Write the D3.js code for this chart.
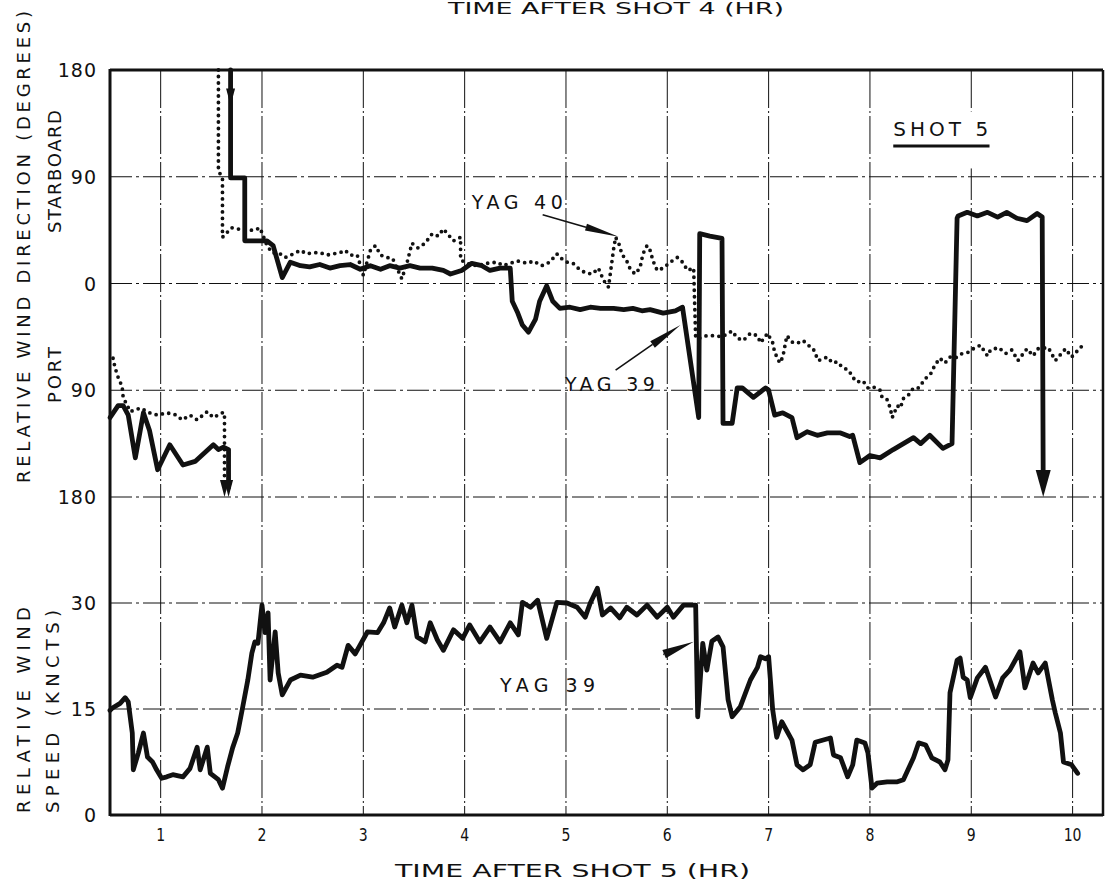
<!DOCTYPE html>
<html><head><meta charset="utf-8">
<script src="https://cdn.jsdelivr.net/npm/d3@7"></script>
<style>body{margin:0;background:#fff}svg{display:block}</style>
</head><body>
<svg id="c" width="1106" height="890"></svg>
<script>
// ---------- DATA ----------
const hourTicks = [1,2,3,4,5,6,7,8,9,10];
const hourTickLabels = ["1","2","3","4","5","6","7","8","9","10"];
const dirTicks = [180,90,0,-90,-180];
const dirTickLabels = ["180","90","0","90","180"];
const speedTicks = [30,15,0];
const speedTickLabels = ["30","15","0"];

// YAG 39 relative wind direction (solid); + = starboard, - = port
const yag39DirPort = [[0.50,-113],[0.58,-103],[0.63,-103],[0.68,-111],[0.75,-147],[0.83,-109],[0.89,-124],[0.97,-157],[1.09,-136],[1.22,-153],[1.34,-150],[1.52,-136],[1.57,-140],[1.62,-138],[1.67,-140],[1.67,-172]];
const yag39Dir = [[1.69,180],[1.69,89],[1.83,89],[1.83,36],[2.05,36],[2.11,32],[2.20,5],[2.28,18],[2.38,15],[2.47,14],[2.57,16],[2.67,13],[2.77,15],[2.87,16],[2.97,12],[3.07,15],[3.17,12],[3.26,15],[3.36,13],[3.46,15],[3.56,13],[3.68,13],[3.79,11],[3.86,8],[3.97,11],[4.07,17],[4.17,15],[4.25,11],[4.35,13],[4.45,13],[4.47,-15],[4.52,-24],[4.57,-35],[4.63,-41],[4.70,-30],[4.74,-15],[4.81,-2],[4.87,-15],[4.94,-21],[5.04,-20],[5.14,-22],[5.24,-20],[5.34,-21],[5.47,-21],[5.57,-22],[5.66,-21],[5.75,-23],[5.83,-22],[5.96,-25],[6.08,-23],[6.15,-20],[6.31,-113],[6.32,42],[6.42,40],[6.54,38],[6.55,-118],[6.64,-118],[6.69,-88],[6.74,-88],[6.85,-96],[6.97,-88],[7.00,-90],[7.06,-111],[7.14,-109],[7.23,-113],[7.28,-130],[7.38,-125],[7.48,-128],[7.58,-126],[7.71,-126],[7.80,-129],[7.83,-128],[7.90,-151],[8.00,-145],[8.10,-147],[8.23,-140],[8.33,-135],[8.43,-130],[8.50,-135],[8.59,-128],[8.72,-139],[8.81,-135],[8.86,55],[8.87,57],[8.96,60],[9.06,57],[9.16,60],[9.26,56],[9.35,60],[9.45,55],[9.55,53],[9.65,59],[9.70,56],[9.71,-170]];

// YAG 40 relative wind direction (dotted)
const yag40DirPort = [[0.53,-63],[0.55,-71],[0.58,-79],[0.62,-87],[0.63,-96],[0.70,-108],[0.80,-105],[0.89,-109],[0.97,-111],[1.06,-109],[1.16,-111],[1.21,-115],[1.29,-111],[1.36,-115],[1.46,-108],[1.52,-113],[1.61,-109],[1.63,-109],[1.63,-172]];
const yag40Dir = [[1.57,180],[1.57,95],[1.61,89],[1.61,39],[1.70,47],[1.76,46],[1.85,45],[1.93,45],[1.98,47],[2.05,32],[2.10,26],[2.18,25],[2.23,22],[2.31,25],[2.38,28],[2.44,25],[2.50,26],[2.57,26],[2.64,24],[2.70,25],[2.77,26],[2.82,28],[2.87,24],[2.94,24],[3.00,7],[3.07,28],[3.12,32],[3.17,24],[3.23,22],[3.29,21],[3.38,4],[3.43,17],[3.48,34],[3.54,30],[3.61,34],[3.68,42],[3.74,40],[3.79,46],[3.86,39],[3.89,36],[3.96,39],[3.96,20],[4.02,17],[4.12,15],[4.22,17],[4.32,18],[4.38,15],[4.52,19],[4.62,17],[4.68,19],[4.76,15],[4.84,18],[4.91,25],[4.94,22],[5.01,18],[5.07,17],[5.12,13],[5.19,9],[5.26,8],[5.32,13],[5.36,5],[5.39,0],[5.42,-3],[5.47,29],[5.49,39],[5.53,32],[5.55,25],[5.60,19],[5.63,13],[5.68,8],[5.73,13],[5.76,25],[5.80,32],[5.83,28],[5.86,19],[5.90,11],[5.96,13],[6.03,18],[6.10,22],[6.15,18],[6.20,11],[6.26,13],[6.28,-46],[6.32,-46],[6.39,-44],[6.47,-44],[6.54,-45],[6.64,-40],[6.69,-46],[6.75,-48],[6.82,-42],[6.89,-44],[6.92,-50],[6.99,-42],[7.04,-50],[7.06,-58],[7.11,-67],[7.14,-62],[7.18,-44],[7.24,-50],[7.29,-50],[7.34,-48],[7.39,-52],[7.44,-55],[7.49,-65],[7.58,-62],[7.63,-67],[7.68,-66],[7.73,-71],[7.79,-73],[7.83,-79],[7.87,-83],[7.93,-82],[7.98,-88],[8.03,-87],[8.10,-90],[8.12,-96],[8.17,-98],[8.20,-105],[8.22,-113],[8.27,-103],[8.30,-105],[8.33,-97],[8.38,-94],[8.43,-88],[8.48,-88],[8.55,-80],[8.60,-76],[8.64,-69],[8.69,-63],[8.74,-67],[8.79,-62],[8.84,-63],[8.91,-59],[8.97,-58],[9.02,-55],[9.09,-52],[9.16,-61],[9.19,-56],[9.27,-54],[9.34,-59],[9.40,-56],[9.46,-65],[9.55,-55],[9.61,-61],[9.66,-55],[9.76,-54],[9.83,-65],[9.93,-55],[9.99,-62],[10.10,-52]];

// YAG 39 relative wind speed (knots)
const yag39Speed = [[0.50,14.8],[0.52,15.1],[0.60,15.8],[0.65,16.6],[0.68,16.0],[0.72,11.6],[0.73,6.4],[0.78,8.8],[0.83,11.6],[0.87,8.2],[0.92,7.5],[0.96,6.4],[1.01,5.2],[1.06,5.4],[1.12,5.7],[1.22,5.4],[1.29,6.6],[1.36,9.6],[1.39,6.4],[1.46,9.6],[1.49,5.9],[1.57,5.0],[1.61,3.8],[1.66,6.8],[1.71,9.5],[1.76,11.6],[1.81,15.3],[1.86,19.1],[1.90,22.9],[1.93,24.5],[1.96,24.3],[2.00,29.7],[2.03,25.8],[2.06,28.6],[2.08,19.1],[2.13,25.9],[2.16,20.1],[2.20,17.0],[2.28,19.1],[2.38,19.8],[2.50,19.5],[2.64,20.2],[2.74,21.2],[2.79,20.9],[2.85,24.0],[2.92,22.8],[3.04,25.9],[3.14,25.8],[3.20,27.2],[3.26,29.3],[3.31,26.6],[3.38,29.7],[3.43,27.2],[3.48,29.7],[3.53,25.2],[3.61,24.5],[3.66,27.2],[3.73,24.8],[3.79,23.3],[3.89,26.2],[3.98,25.0],[4.05,26.9],[4.15,24.5],[4.25,26.6],[4.35,24.5],[4.45,27.2],[4.53,25.5],[4.57,30.1],[4.65,29.4],[4.72,30.4],[4.81,25.0],[4.91,30.1],[5.01,30.0],[5.11,29.4],[5.19,28.0],[5.24,30.0],[5.31,32.1],[5.36,28.3],[5.44,29.3],[5.53,27.9],[5.60,29.4],[5.70,28.3],[5.80,29.7],[5.90,28.0],[6.00,29.4],[6.06,28.0],[6.16,29.7],[6.28,29.7],[6.30,13.9],[6.35,24.3],[6.39,20.5],[6.44,24.6],[6.50,25.2],[6.55,23.8],[6.60,16.3],[6.64,13.9],[6.72,15.3],[6.82,19.1],[6.89,20.9],[6.92,22.4],[6.97,22.1],[7.00,22.4],[7.04,14.9],[7.08,11.0],[7.13,13.2],[7.23,10.6],[7.28,7.1],[7.34,6.4],[7.41,7.1],[7.46,10.3],[7.61,10.9],[7.64,8.5],[7.71,8.1],[7.78,5.4],[7.83,7.1],[7.87,10.6],[7.95,10.2],[7.98,8.8],[8.02,3.8],[8.07,4.5],[8.17,4.7],[8.27,4.7],[8.33,5.0],[8.43,8.1],[8.48,10.2],[8.55,9.9],[8.61,8.1],[8.69,7.5],[8.74,6.4],[8.77,7.8],[8.79,17.3],[8.86,21.9],[8.89,22.2],[8.92,19.5],[8.96,19.1],[8.99,16.6],[9.06,19.4],[9.14,20.9],[9.24,16.7],[9.31,19.4],[9.38,20.5],[9.48,23.1],[9.53,18.0],[9.61,21.5],[9.66,20.1],[9.73,21.5],[9.80,16.3],[9.83,14.4],[9.88,11.6],[9.91,7.5],[9.99,7.1],[10.05,5.9]];

// arrow heads marking 180-degree wrap (hour, direction)
const wrapArrows = [[1.63,-180],[1.67,-180],[1.69,150],[9.71,-180]];

// ---------- CHART ----------
const svg = d3.select("#c");
const FONT = "'DejaVu Sans', 'Liberation Sans', sans-serif";
const x = d3.scaleLinear().domain([0.5,10.3]).range([110,1103]);
const yDir = d3.scaleLinear().domain([-180,180]).range([497,70]);
const ySpd = d3.scaleLinear().domain([0,30]).range([815,603]);
const INK = "#111";

// grid
const grid = svg.append("g").attr("stroke",INK).attr("stroke-width",1).attr("fill","none");
hourTicks.forEach(h=>{
  grid.append("line").attr("x1",x(h)).attr("x2",x(h)).attr("y1",yDir(180)).attr("y2",ySpd(0))
    .attr("stroke-dasharray","38,3,2,3");
});
dirTicks.filter(v=>v!==180).forEach(v=>{
  grid.append("line").attr("x1",x.range()[0]).attr("x2",x.range()[1]).attr("y1",yDir(v)).attr("y2",yDir(v))
    .attr("stroke-dasharray","22,4,3,4");
});
speedTicks.filter(v=>v!==0).forEach(v=>{
  grid.append("line").attr("x1",x.range()[0]).attr("x2",x.range()[1]).attr("y1",ySpd(v)).attr("y2",ySpd(v))
    .attr("stroke-dasharray","22,4,3,4");
});

// frame
const fr = svg.append("g").attr("stroke",INK).attr("fill","none");
fr.append("line").attr("x1",x.range()[0]).attr("x2",x.range()[1]).attr("y1",yDir(180)).attr("y2",yDir(180)).attr("stroke-width",3);
fr.append("line").attr("x1",x.range()[0]).attr("x2",x.range()[1]).attr("y1",ySpd(0)).attr("y2",ySpd(0)).attr("stroke-width",3);
fr.append("line").attr("x1",x.range()[0]).attr("x2",x.range()[0]).attr("y1",yDir(180)-1).attr("y2",ySpd(0)+1).attr("stroke-width",3);
fr.append("line").attr("x1",x.range()[1]).attr("x2",x.range()[1]).attr("y1",yDir(180)).attr("y2",ySpd(0)+1).attr("stroke-width",2.5);

// white gap behind SHOT 5 label
svg.append("rect").attr("x",x(8.2)).attr("y",yDir(145)).attr("width",x(9.25)-x(8.2)).attr("height",yDir(97)-yDir(145)).attr("fill","#fff");

// lines
const lineDir = d3.line().x(d=>x(d[0])).y(d=>yDir(d[1]));
const lineSpd = d3.line().x(d=>x(d[0])).y(d=>ySpd(d[1]));
const solid = s=>s.attr("fill","none").attr("stroke",INK).attr("stroke-width",4.8).attr("stroke-linejoin","round").attr("stroke-linecap","round");
const dotted = s=>s.attr("fill","none").attr("stroke",INK).attr("stroke-width",3.8).attr("stroke-dasharray","0,6.5").attr("stroke-linecap","round");

dotted(svg.append("path").attr("d",lineDir(yag40DirPort)));
dotted(svg.append("path").attr("d",lineDir(yag40Dir)));
solid(svg.append("path").attr("d",lineDir(yag39DirPort)));
solid(svg.append("path").attr("d",lineDir(yag39Dir)));
solid(svg.append("path").attr("d",lineSpd(yag39Speed)));

// wrap arrow heads (pointing down)
wrapArrows.forEach((d,i)=>{
  const tx=x(d[0]), ty=yDir(d[1]);
  const w = i===3?15:9, hgt = i===3?27:17;
  svg.append("path").attr("d",`M${tx},${ty} L${tx-w/2},${ty-hgt} L${tx+w/2},${ty-hgt} Z`).attr("fill",INK);
});

// annotation arrows
function arrow(x1,y1,x2,y2,len,wid){
  const dx=x2-x1, dy=y2-y1, L=Math.hypot(dx,dy), ux=dx/L, uy=dy/L;
  const bx=x2-ux*len, by=y2-uy*len;
  svg.append("line").attr("x1",x1).attr("y1",y1).attr("x2",bx).attr("y2",by).attr("stroke",INK).attr("stroke-width",1.6);
  svg.append("path").attr("d",`M${x2},${y2} L${bx-uy*wid/2},${by+ux*wid/2} L${bx+uy*wid/2},${by-ux*wid/2} Z`).attr("fill",INK);
}
arrow(x(4.77),yDir(58),x(5.52),yDir(39.5),34,7);
arrow(x(5.49),yDir(-73),x(6.13),yDir(-35),34,8);
arrow(x(5.96),ySpd(22.7),x(6.26),ySpd(24.5),32,9);

// text helpers
function txt(str,tx,ty,opts={}){
  const t = svg.append("text").attr("x",tx).attr("y",ty).text(str)
    .attr("font-family",FONT).attr("fill",INK)
    .attr("font-size",opts.size||18).attr("text-anchor",opts.anchor||"start");
  if(opts.ls) t.attr("letter-spacing",opts.ls);
  if(opts.len) t.attr("textLength",opts.len).attr("lengthAdjust",opts.adj||"spacing");
  if(opts.rot) t.attr("transform",`rotate(-90,${tx},${ty})`);
  return t;
}

// y tick labels
dirTicks.forEach((v,i)=>txt(dirTickLabels[i],97,yDir(v)+7,{anchor:"end",size:19,ls:1}));
speedTicks.forEach((v,i)=>txt(speedTickLabels[i],97,ySpd(v)+7,{anchor:"end",size:19,ls:1}));

// x tick labels (condensed lettering)
hourTicks.forEach((h,i)=>{
  svg.append("text").attr("transform",`translate(${x(h)},841) scale(0.78,1)`)
    .attr("text-anchor","middle").attr("font-family",FONT).attr("font-size",18).attr("fill",INK)
    .text(hourTickLabels[i]);
});

// axis titles
txt("TIME AFTER SHOT 5 (HR)",395,877,{size:18,len:355,adj:"spacingAndGlyphs"});
txt("TIME AFTER SHOT 4 (HR)",448,14,{size:16,len:336,adj:"spacingAndGlyphs"});
txt("RELATIVE WIND DIRECTION (DEGREES)",30,483,{size:18,len:472,rot:true});
txt("STARBOARD",61,233,{size:18,len:123,rot:true});
txt("PORT",61,403,{size:18,len:56,rot:true});
txt("RELATIVE WIND",30,813,{size:18,len:206,rot:true});
txt("SPEED  (KNCTS)",59,813,{size:18,len:203,rot:true});

// annotations
txt("YAG 40",x(4.07),yDir(63),{size:19,len:91});
txt("YAG 39",x(4.99),yDir(-91),{size:19,len:90});
txt("YAG 39",x(4.35),ySpd(17.4),{size:19,len:95});
txt("SHOT 5",x(8.23),yDir(124.5),{size:20,len:95});
svg.append("line").attr("x1",x(8.23)).attr("x2",x(9.18)).attr("y1",yDir(116)).attr("y2",yDir(116)).attr("stroke",INK).attr("stroke-width",3);
</script>
</body></html>
